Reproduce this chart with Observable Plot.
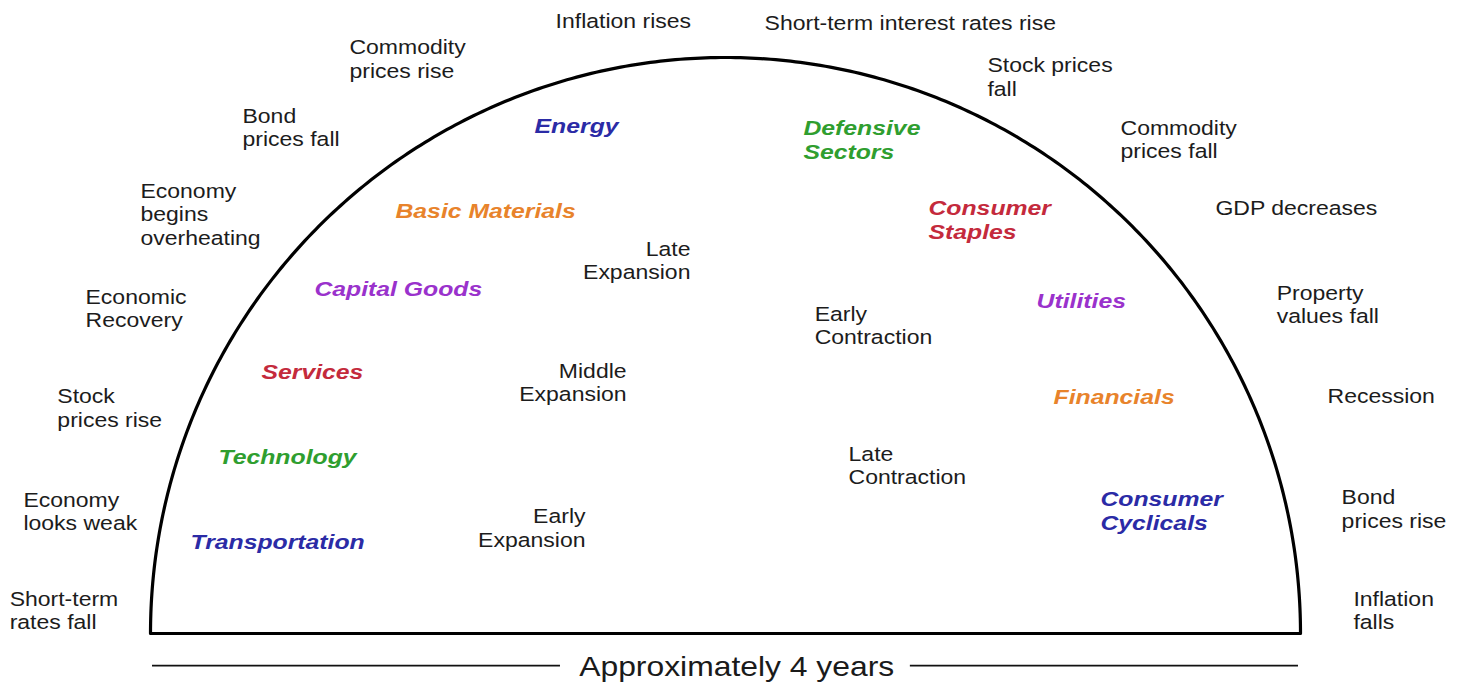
<!DOCTYPE html>
<html>
<head>
<meta charset="utf-8">
<script src="https://cdn.jsdelivr.net/npm/d3@7"></script>
<script src="https://cdn.jsdelivr.net/npm/@observablehq/plot@0.6"></script>
<style>
  html, body { margin: 0; padding: 0; background: #ffffff; }
  #chart svg { display: block; }
</style>
</head>
<body>
<div id="chart"></div>
<script>
// ---- Data (x in years of the ~4-year cycle, y = relative height of the cycle curve) ----
const cycleYears = 4;

// Economic events outside the curve
const eventLabels = [
  "Inflation rises", "Short-term interest rates rise", "Commodity\nprices rise",
  "Bond\nprices fall", "Economy\nbegins\noverheating", "Economic\nRecovery",
  "Stock\nprices rise", "Economy\nlooks weak", "Short-term\nrates fall",
  "Stock prices\nfall", "Commodity\nprices fall", "GDP decreases",
  "Property\nvalues fall", "Recession", "Bond\nprices rise", "Inflation\nfalls"
];
const eventX = [1.409, 2.136, 0.692, 0.320, -0.035, -0.226, -0.324, -0.442, -0.490,
                2.911, 3.374, 3.704, 3.917, 4.094, 4.143, 4.184];
const eventY = [1.0625, 1.059, 0.9965, 0.8776, 0.7266, 0.5634, 0.3906, 0.2109, 0.0391,
                0.9653, 0.8568, 0.7378, 0.5703, 0.4115, 0.2153, 0.0391];

// Phases of the cycle (expansion phases are right-aligned, contraction left-aligned)
const expansionLabels = ["Late\nExpansion", "Middle\nExpansion", "Early\nExpansion"];
const expansionX = [1.878, 1.656, 1.513];
const expansionY = [0.6467, 0.4349, 0.1823];
const contractionLabels = ["Early\nContraction", "Late\nContraction"];
const contractionX = [2.310, 2.428];
const contractionY = [0.5339, 0.2908];

// Sectors that lead in each phase
const sectorLabels = ["Energy", "Defensive\nSectors", "Basic Materials", "Consumer\nStaples",
  "Capital Goods", "Utilities", "Services", "Financials", "Technology",
  "Consumer\nCyclicals", "Transportation"];
const sectorX = [1.336, 2.271, 0.852, 2.706, 0.570, 3.082, 0.386, 3.141, 0.2365, 3.304, 0.139];
const sectorY = [0.8802, 0.8568, 0.7326, 0.7179, 0.5972, 0.5764, 0.4531, 0.4097, 0.3056, 0.2127, 0.158];
const sectorGroup = ["energy", "defensive", "materials", "staples", "capital", "utilities",
  "services", "financials", "technology", "cyclicals", "transportation"];
const sectorColor = {
  energy: "#2b2ba6", defensive: "#2f9e2f", materials: "#e8832b", staples: "#c42a3c",
  capital: "#9a32cc", utilities: "#9a32cc", services: "#c42a3c", financials: "#e8832b",
  technology: "#2f9e2f", cyclicals: "#2b2ba6", transportation: "#2b2ba6"
};

// Duration footer
const footerText = "Approximately 4 years";
const footerX = 2.039;
const footerY = -0.059;
const footerRuleX1 = [0.007, 2.643];
const footerRuleX2 = [1.426, 3.993];
const footerRuleY = -0.0556;

// ---- Build tables ----
const events = eventLabels.map((t, i) => ({t, x: eventX[i], y: eventY[i]}));
const expansions = expansionLabels.map((t, i) => ({t, x: expansionX[i], y: expansionY[i]}));
const contractions = contractionLabels.map((t, i) => ({t, x: contractionX[i], y: contractionY[i]}));
const sectors = sectorLabels.map((t, i) => ({t, x: sectorX[i], y: sectorY[i], c: sectorColor[sectorGroup[i]]}));
const footerRules = footerRuleX1.map((x1, i) => ({x1, x2: footerRuleX2[i], y: footerRuleY}));

// Semicircular cycle curve plus baseline (geometry of the diagram)
const half = cycleYears / 2;
const curve = d3.range(0, 361).map(i => {
  const a = Math.PI * i / 360;
  return {x: half - half * Math.cos(a), y: Math.sin(a)};
});
curve.push({x: 0, y: 0});

const font = "'Liberation Sans', Arial, Helvetica, sans-serif";

const chart = Plot.plot({
  width: 1461,
  height: 687,
  marginLeft: 150,
  marginRight: 161,
  marginTop: 57,
  marginBottom: 54,
  x: {domain: [0, cycleYears], axis: null},
  y: {domain: [0, 1], axis: null},
  style: {fontFamily: font, background: "#ffffff", overflow: "visible"},
  marks: [
    Plot.line(curve, {x: "x", y: "y", stroke: "#000", strokeWidth: 3.2, strokeLinejoin: "round"}),
    Plot.ruleY(footerRules, {x1: "x1", x2: "x2", y: "y", stroke: "#111", strokeWidth: 1.8}),
    Plot.text([footerText], {x: [footerX], y: [footerY], text: d => d, fontSize: 27, fill: "#1a1a1a", textAnchor: "middle"}),
    Plot.text(events, {x: "x", y: "y", dy: -1, text: "t", fontSize: 19.5, lineHeight: 1.2, fill: "#1c1c1c", textAnchor: "start"}),
    Plot.text(expansions, {x: "x", y: "y", dy: -1, text: "t", fontSize: 19.5, lineHeight: 1.2, fill: "#1c1c1c", textAnchor: "end"}),
    Plot.text(contractions, {x: "x", y: "y", dy: -1, text: "t", fontSize: 19.5, lineHeight: 1.2, fill: "#1c1c1c", textAnchor: "start"}),
    Plot.text(sectors, {x: "x", y: "y", dy: -1, text: "t", fill: "c", fontSize: 21, lineHeight: 1.17,
      fontWeight: "bold", fontStyle: "italic", textAnchor: "start"})
  ]
});

// The reference's lettering is horizontally widened; stretch each label around its anchor.
d3.select(chart).selectAll("text").each(function() {
  const tr = this.getAttribute("transform") || "";
  this.setAttribute("transform", tr + " scale(1.18,1)");
});

document.getElementById("chart").appendChild(chart);
</script>
</body>
</html>
